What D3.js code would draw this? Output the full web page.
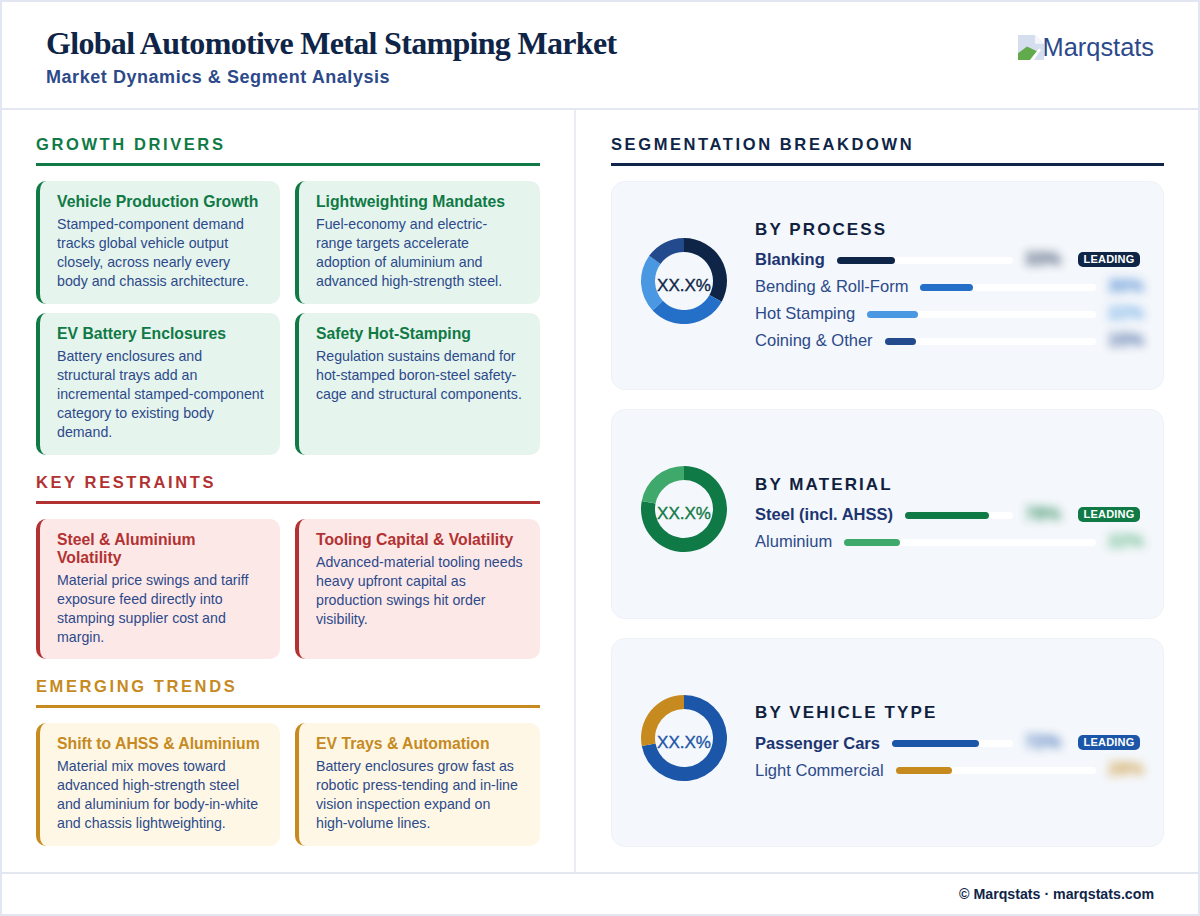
<!DOCTYPE html>
<html>
<head>
<meta charset="utf-8">
<script src="https://cdn.jsdelivr.net/npm/d3@7"></script>
<style>
* { box-sizing: border-box; }
html, body { margin: 0; padding: 0; background: #fff; }
body { width: 1200px; height: 916px; overflow: hidden; font-family: "Liberation Sans", Arial, sans-serif; color: #0f2548; }
.page { width: 1200px; height: 916px; border: 2px solid #e2e6f3; display: flex; flex-direction: column; background: #fff; }
.header { height: 108px; border-bottom: 2px solid #e3e7ef; display: flex; justify-content: space-between; padding: 0 44px; flex: none; }
.title { font: bold 32px "Liberation Serif", serif; letter-spacing: -0.69px; margin-top: 22px; line-height: 38px; color: #0f2548; }
.subtitle { font-size: 18px; font-weight: bold; letter-spacing: 0.55px; color: #2c4a8a; margin-top: 4px; line-height: 22px; }
.logo { display: flex; align-items: flex-start; font-size: 25.4px; color: #2c4a8a; margin-top: 30px; }
.logo svg { width: 26px; height: 25px; margin-right: -1px; margin-top: 3px; }
.logo span { line-height: 30px; }
.main { flex: 1; display: flex; min-height: 0; }
.left { width: 574px; border-right: 2px solid #e9ecf3; padding: 24px 34px 0 34px; }
.right { flex: 1; padding: 24px 34px 25px 35px; display: flex; flex-direction: column; }
.heading { font-size: 16.5px; font-weight: bold; letter-spacing: 2.6px; line-height: 20px; padding-bottom: 9px; border-bottom: 3px solid; margin-bottom: 15px; }
.heading.next { margin-top: 17px; }
.grid { display: grid; grid-template-columns: 244px 245px; column-gap: 15px; row-gap: 9px; }
.card { border-left: 4px solid; border-radius: 10px; padding: 12px 10px 13px 17px; }
.card.tight { padding-bottom: 12px; }
.card h4 { margin: 0 0 4px 0; font-size: 15.75px; line-height: 18px; font-weight: bold; }
.card p { margin: 0; font-size: 14.2px; line-height: 19px; color: #2c4a8a; white-space: nowrap; }
.card h4 div, .card p div { white-space: nowrap; }
.segments { flex: 1; display: flex; flex-direction: column; gap: 19px; min-height: 0; }
.segment { flex: 1; background: #f4f7fb; border: 1px solid #eef1f7; border-radius: 14px; display: flex; align-items: center; padding: 0 23px 0 29px; }
.donut { flex: none; width: 86px; height: 86px; margin-right: 28px; margin-bottom: 9px; display: block; }
.seg-body { flex: 1; min-width: 0; padding-top: 3px; }
.seg-title { font-size: 17px; font-weight: bold; letter-spacing: 2.1px; color: #111f3f; line-height: 20px; margin-bottom: 7px; }
.row { display: flex; align-items: center; height: 27px; gap: 12px; font-size: 16.55px; color: #2c4a8a; white-space: nowrap; }
.row.lead { font-weight: bold; color: #1c3570; }
.track { flex: 1; height: 7px; background: #fff; border-radius: 4px; }
.fill { height: 100%; border-radius: 4px; }
.value { width: 32px; text-align: center; font-size: 18px; font-weight: bold; filter: blur(5px); opacity: 0.85; margin-top: -2px; }
.badge { margin-left: 9px; width: 62px; height: 15px; line-height: 15px; border-radius: 5px; color: #fff; font-size: 11px; font-weight: bold; text-align: center; letter-spacing: 0.2px; margin-top: -2px; }
.footer { height: 42px; border-top: 2px solid #e3e7ef; flex: none; text-align: right; padding-right: 44px; line-height: 41px; font-size: 14.2px; font-weight: bold; color: #0f2548; }
</style>
</head>
<body>
<div class="page"></div>
<script>
const chartTitle = 'Global Automotive Metal Stamping Market';
const chartSubtitle = 'Market Dynamics & Segment Analysis';
const footerText = '© Marqstats · marqstats.com';

// Card copy, one entry per printed line
const driverTitles = [['Vehicle Production Growth'], ['Lightweighting Mandates'], ['EV Battery Enclosures'], ['Safety Hot-Stamping']];
const driverTexts = [
    ['Stamped-component demand', 'tracks global vehicle output', 'closely, across nearly every', 'body and chassis architecture.'],
    ['Fuel-economy and electric-', 'range targets accelerate', 'adoption of aluminium and', 'advanced high-strength steel.'],
    ['Battery enclosures and', 'structural trays add an', 'incremental stamped-component', 'category to existing body', 'demand.'],
    ['Regulation sustains demand for', 'hot-stamped boron-steel safety-', 'cage and structural components.']
];
const restraintTitles = [['Steel & Aluminium', 'Volatility'], ['Tooling Capital & Volatility']];
const restraintTexts = [
    ['Material price swings and tariff', 'exposure feed directly into', 'stamping supplier cost and', 'margin.'],
    ['Advanced-material tooling needs', 'heavy upfront capital as', 'production swings hit order', 'visibility.']
];
const trendTitles = [['Shift to AHSS & Aluminium'], ['EV Trays & Automation']];
const trendTexts = [
    ['Material mix moves toward', 'advanced high-strength steel', 'and aluminium for body-in-white', 'and chassis lightweighting.'],
    ['Battery enclosures grow fast as', 'robotic press-tending and in-line', 'vision inspection expand on', 'high-volume lines.']
];

const processLabels = ['Blanking', 'Bending & Roll-Form', 'Hot Stamping', 'Coining & Other'];
const processValues = [33, 30, 22, 15];
const processColors = ['#0f2548', '#2470c8', '#4a97e2', '#234a8c'];
const materialLabels = ['Steel (incl. AHSS)', 'Aluminium'];
const materialValues = [78, 22];
const materialColors = ['#0f7a45', '#3fa96c'];
const vehicleLabels = ['Passenger Cars', 'Light Commercial'];
const vehicleValues = [72, 28];
const vehicleColors = ['#1b56a8', '#c68a1e'];

const page = d3.select('.page');

// Header
const header = page.append('div').attr('class', 'header');
const titleBox = header.append('div');
titleBox.append('div').attr('class', 'title').text(chartTitle);
titleBox.append('div').attr('class', 'subtitle').text(chartSubtitle);

// Logo placeholder icon + name
const logo = header.append('div').attr('class', 'logo');
const icon = logo.append('svg').attr('viewBox', '0 0 26 26').attr('preserveAspectRatio', 'none');
icon.append('path').attr('d', 'M0 0H17L26 9V26H0Z').attr('fill', '#d5deef');
icon.append('path').attr('d', 'M17 0V9H26Z').attr('fill', '#f4f6fb');
icon.append('path').attr('d', 'M0 26V19L9 12L19 17L12 26Z').attr('fill', '#62ab4c');
icon.append('path').attr('d', 'M12 26L21 14L23 15L16 26Z').attr('fill', '#fff');
logo.append('span').text('Marqstats');

const main = page.append('div').attr('class', 'main');
const left = main.append('div').attr('class', 'left');
const right = main.append('div').attr('class', 'right');

function drawSection(name, titles, texts, color, background, isNext, cardClass) {
    left.append('div')
        .attr('class', isNext ? 'heading next' : 'heading')
        .style('color', color)
        .style('border-color', color)
        .text(name);
    const cards = left.append('div').attr('class', 'grid')
        .selectAll('.card')
        .data(titles)
        .join('div')
        .attr('class', cardClass)
        .style('border-color', color)
        .style('background', background);
    cards.append('h4').style('color', color)
        .selectAll('div')
        .data(d => d)
        .join('div')
        .text(d => d);
    cards.append('p')
        .selectAll('div')
        .data((d, i) => texts[i])
        .join('div')
        .text(d => d);
}

drawSection('GROWTH DRIVERS', driverTitles, driverTexts, '#0f7a45', '#e6f4ee', false, 'card');
drawSection('KEY RESTRAINTS', restraintTitles, restraintTexts, '#b23232', '#fde8e8', true, 'card tight');
drawSection('EMERGING TRENDS', trendTitles, trendTexts, '#c68a1e', '#fef7e6', true, 'card');

right.append('div')
    .attr('class', 'heading')
    .style('color', '#0f2548')
    .style('border-color', '#0f2548')
    .text('SEGMENTATION BREAKDOWN');

const segments = right.append('div').attr('class', 'segments');

function drawSegment(name, labels, values, colors, centerColor) {
    const seg = segments.append('div').attr('class', 'segment');

    // Donut
    const pie = d3.pie().sort(null);
    const arc = d3.arc().innerRadius(29).outerRadius(43);
    const svg = seg.append('svg')
        .attr('class', 'donut')
        .attr('viewBox', '-43 -43 86 86');
    svg.selectAll('path')
        .data(pie(values))
        .join('path')
        .attr('d', arc)
        .attr('fill', (d, i) => colors[i]);
    svg.append('text')
        .attr('text-anchor', 'middle')
        .attr('y', 10)
        .style('font-size', '17px')
        .style('fill', centerColor)
        .style('stroke', centerColor)
        .style('stroke-width', 0.35)
        .text('XX.X%');

    // Bars
    const xScale = d3.scaleLinear().domain([0, 100]).range([0, 100]);
    const body = seg.append('div').attr('class', 'seg-body');
    body.append('div').attr('class', 'seg-title').text(name);
    const rows = body.selectAll('.row')
        .data(labels)
        .join('div')
        .attr('class', (d, i) => i === 0 ? 'row lead' : 'row');
    rows.append('span').text(d => d);
    rows.append('div').attr('class', 'track')
        .append('div').attr('class', 'fill')
        .style('width', (d, i) => xScale(values[i]) + '%')
        .style('background', (d, i) => colors[i]);
    rows.append('span').attr('class', 'value')
        .style('color', (d, i) => colors[i])
        .text((d, i) => values[i] + '%');
    rows.filter((d, i) => i === 0).append('span').attr('class', 'badge')
        .style('background', colors[0])
        .text('LEADING');
}

drawSegment('BY PROCESS', processLabels, processValues, processColors, '#0f2548');
drawSegment('BY MATERIAL', materialLabels, materialValues, materialColors, '#0f7a45');
drawSegment('BY VEHICLE TYPE', vehicleLabels, vehicleValues, vehicleColors, '#1b56a8');

page.append('div').attr('class', 'footer').text(footerText);
</script>
</body>
</html>
